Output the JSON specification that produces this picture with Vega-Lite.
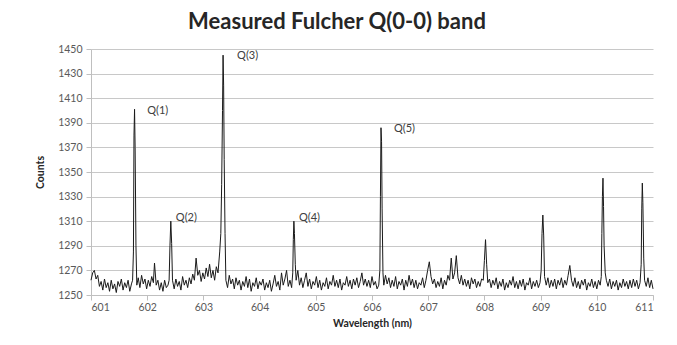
{
  "$schema": "https://vega.github.io/schema/vega-lite/v6.json",
  "width": 562,
  "height": 246,
  "autosize": {"type": "none"},
  "padding": {"left": 91, "top": 49, "right": 24, "bottom": 50},
  "background": "white",
  "config": {
    "view": {"stroke": null},
    "font": "Lato",
    "axis": {"labelFont": "Lato", "titleFont": "Lato", "labelColor": "#595959", "labelFontSize": 10.5, "domainColor": "#bfbfbf", "tickColor": "#bfbfbf", "gridColor": "#c8c8c8", "titleFontSize": 10.5, "titleFontWeight": "bold", "titleColor": "#262626", "labelOverlap": false}
  },
  "title": {"text": "Measured Fulcher Q(0-0) band", "font": "Lato", "fontSize": 22, "fontWeight": "bold", "color": "#262626", "anchor": "middle", "dx": -35, "baseline": "alphabetic", "offset": 14, "dy": 21},
  "datasets": {
    "spec": [
      {"w":601.00,"c":1262},{"w":601.03,"c":1268},{"w":601.06,"c":1270},{"w":601.09,"c":1263},{"w":601.12,"c":1266},{"w":601.15,"c":1257},{"w":601.18,"c":1261},{"w":601.21,"c":1254},{"w":601.24,"c":1263},{"w":601.27,"c":1256},{"w":601.30,"c":1260},{"w":601.33,"c":1253},{"w":601.36,"c":1262},{"w":601.39,"c":1255},{"w":601.42,"c":1259},{"w":601.45,"c":1252},{"w":601.48,"c":1261},{"w":601.51,"c":1257},{"w":601.54,"c":1263},{"w":601.57,"c":1254},{"w":601.60,"c":1260},{"w":601.63,"c":1256},{"w":601.66,"c":1262},{"w":601.69,"c":1253},{"w":601.72,"c":1259},
      {"w":601.74,"c":1262},{"w":601.755,"c":1285},{"w":601.765,"c":1380},{"w":601.775,"c":1401},{"w":601.785,"c":1370},{"w":601.80,"c":1290},{"w":601.815,"c":1258},
      {"w":601.84,"c":1264},{"w":601.87,"c":1256},{"w":601.90,"c":1266},{"w":601.93,"c":1259},{"w":601.96,"c":1263},{"w":601.99,"c":1255},{"w":602.02,"c":1262},{"w":602.05,"c":1257},{"w":602.08,"c":1265},{"w":602.11,"c":1260},{"w":602.13,"c":1276},{"w":602.16,"c":1258},{"w":602.19,"c":1262},{"w":602.22,"c":1254},{"w":602.25,"c":1260},{"w":602.28,"c":1253},{"w":602.31,"c":1262},{"w":602.34,"c":1256},{"w":602.37,"c":1258},
      {"w":602.39,"c":1262},{"w":602.405,"c":1290},{"w":602.42,"c":1310},{"w":602.435,"c":1292},{"w":602.45,"c":1262},
      {"w":602.48,"c":1255},{"w":602.51,"c":1263},{"w":602.54,"c":1257},{"w":602.57,"c":1261},{"w":602.60,"c":1254},{"w":602.63,"c":1265},{"w":602.66,"c":1258},{"w":602.69,"c":1262},{"w":602.72,"c":1256},{"w":602.75,"c":1264},{"w":602.78,"c":1259},{"w":602.81,"c":1267},{"w":602.84,"c":1262},{"w":602.87,"c":1280},{"w":602.90,"c":1266},{"w":602.93,"c":1270},{"w":602.96,"c":1261},{"w":602.99,"c":1268},{"w":603.02,"c":1263},{"w":603.05,"c":1272},{"w":603.08,"c":1265},{"w":603.11,"c":1275},{"w":603.14,"c":1264},{"w":603.17,"c":1270},{"w":603.20,"c":1262},{"w":603.23,"c":1273},{"w":603.26,"c":1268},{"w":603.29,"c":1285},
      {"w":603.31,"c":1300},{"w":603.325,"c":1340},{"w":603.34,"c":1400},{"w":603.35,"c":1445},{"w":603.36,"c":1420},{"w":603.37,"c":1360},{"w":603.385,"c":1300},{"w":603.40,"c":1262},
      {"w":603.43,"c":1256},{"w":603.46,"c":1266},{"w":603.49,"c":1259},{"w":603.52,"c":1263},{"w":603.55,"c":1255},{"w":603.58,"c":1264},{"w":603.61,"c":1258},{"w":603.64,"c":1262},{"w":603.67,"c":1254},{"w":603.70,"c":1261},{"w":603.73,"c":1257},{"w":603.76,"c":1265},{"w":603.79,"c":1256},{"w":603.82,"c":1263},{"w":603.85,"c":1253},{"w":603.88,"c":1260},{"w":603.91,"c":1257},{"w":603.94,"c":1264},{"w":603.97,"c":1255},{"w":604.00,"c":1261},{"w":604.03,"c":1258},{"w":604.06,"c":1263},{"w":604.09,"c":1254},{"w":604.12,"c":1260},{"w":604.15,"c":1256},{"w":604.18,"c":1262},{"w":604.21,"c":1253},{"w":604.24,"c":1259},{"w":604.27,"c":1266},{"w":604.30,"c":1257},{"w":604.33,"c":1261},{"w":604.36,"c":1254},{"w":604.39,"c":1268},{"w":604.42,"c":1258},{"w":604.45,"c":1263},{"w":604.48,"c":1270},{"w":604.51,"c":1257},{"w":604.54,"c":1262},{"w":604.57,"c":1256},
      {"w":604.59,"c":1268},{"w":604.60,"c":1295},{"w":604.61,"c":1310},{"w":604.62,"c":1300},{"w":604.635,"c":1275},{"w":604.65,"c":1262},
      {"w":604.68,"c":1270},{"w":604.71,"c":1258},{"w":604.74,"c":1264},{"w":604.77,"c":1256},{"w":604.80,"c":1262},{"w":604.83,"c":1268},{"w":604.86,"c":1257},{"w":604.89,"c":1263},{"w":604.92,"c":1255},{"w":604.95,"c":1261},{"w":604.98,"c":1258},{"w":605.01,"c":1265},{"w":605.04,"c":1256},{"w":605.07,"c":1262},{"w":605.10,"c":1254},{"w":605.13,"c":1260},{"w":605.16,"c":1257},{"w":605.19,"c":1264},{"w":605.22,"c":1255},{"w":605.25,"c":1261},{"w":605.28,"c":1258},{"w":605.31,"c":1266},{"w":605.34,"c":1257},{"w":605.37,"c":1262},{"w":605.40,"c":1256},{"w":605.43,"c":1263},{"w":605.46,"c":1254},{"w":605.49,"c":1260},{"w":605.52,"c":1258},{"w":605.55,"c":1265},{"w":605.58,"c":1257},{"w":605.61,"c":1262},{"w":605.64,"c":1255},{"w":605.67,"c":1263},{"w":605.70,"c":1258},{"w":605.73,"c":1264},{"w":605.76,"c":1256},{"w":605.79,"c":1261},{"w":605.82,"c":1268},{"w":605.85,"c":1258},{"w":605.88,"c":1263},{"w":605.91,"c":1257},{"w":605.94,"c":1262},{"w":605.97,"c":1256},{"w":606.00,"c":1265},{"w":606.03,"c":1258},{"w":606.06,"c":1261},{"w":606.09,"c":1255},{"w":606.12,"c":1258},
      {"w":606.14,"c":1270},{"w":606.15,"c":1330},{"w":606.16,"c":1386},{"w":606.17,"c":1375},{"w":606.18,"c":1320},{"w":606.195,"c":1268},
      {"w":606.21,"c":1258},{"w":606.24,"c":1266},{"w":606.27,"c":1259},{"w":606.30,"c":1264},{"w":606.33,"c":1256},{"w":606.36,"c":1262},{"w":606.39,"c":1257},{"w":606.42,"c":1265},{"w":606.45,"c":1255},{"w":606.48,"c":1261},{"w":606.51,"c":1258},{"w":606.54,"c":1263},{"w":606.57,"c":1254},{"w":606.60,"c":1262},{"w":606.63,"c":1257},{"w":606.66,"c":1266},{"w":606.69,"c":1258},{"w":606.72,"c":1263},{"w":606.75,"c":1256},{"w":606.78,"c":1262},{"w":606.81,"c":1255},{"w":606.84,"c":1260},{"w":606.87,"c":1258},{"w":606.90,"c":1264},{"w":606.93,"c":1256},{"w":606.96,"c":1262},{"w":606.99,"c":1270},{"w":607.02,"c":1277},{"w":607.05,"c":1265},{"w":607.08,"c":1259},{"w":607.11,"c":1263},{"w":607.14,"c":1256},{"w":607.17,"c":1261},{"w":607.20,"c":1257},{"w":607.23,"c":1264},{"w":607.26,"c":1255},{"w":607.29,"c":1262},{"w":607.32,"c":1258},{"w":607.35,"c":1266},{"w":607.38,"c":1262},{"w":607.41,"c":1280},{"w":607.44,"c":1263},{"w":607.47,"c":1268},{"w":607.50,"c":1282},{"w":607.53,"c":1264},{"w":607.56,"c":1259},{"w":607.59,"c":1266},{"w":607.62,"c":1258},{"w":607.65,"c":1263},{"w":607.68,"c":1257},{"w":607.71,"c":1262},{"w":607.74,"c":1255},{"w":607.77,"c":1264},{"w":607.80,"c":1259},{"w":607.83,"c":1263},{"w":607.86,"c":1256},{"w":607.89,"c":1261},{"w":607.92,"c":1257},{"w":607.95,"c":1263},
      {"w":607.98,"c":1262},{"w":608.00,"c":1278},{"w":608.02,"c":1295},{"w":608.04,"c":1275},{"w":608.06,"c":1260},
      {"w":608.09,"c":1263},{"w":608.12,"c":1256},{"w":608.15,"c":1262},{"w":608.18,"c":1258},{"w":608.21,"c":1264},{"w":608.24,"c":1255},{"w":608.27,"c":1261},{"w":608.30,"c":1257},{"w":608.33,"c":1263},{"w":608.36,"c":1254},{"w":608.39,"c":1260},{"w":608.42,"c":1256},{"w":608.45,"c":1262},{"w":608.48,"c":1258},{"w":608.51,"c":1265},{"w":608.54,"c":1256},{"w":608.57,"c":1261},{"w":608.60,"c":1255},{"w":608.63,"c":1262},{"w":608.66,"c":1257},{"w":608.69,"c":1263},{"w":608.72,"c":1254},{"w":608.75,"c":1260},{"w":608.78,"c":1258},{"w":608.81,"c":1264},{"w":608.84,"c":1255},{"w":608.87,"c":1261},{"w":608.90,"c":1257},{"w":608.93,"c":1262},{"w":608.96,"c":1256},{"w":608.99,"c":1260},
      {"w":609.01,"c":1270},{"w":609.025,"c":1300},{"w":609.04,"c":1315},{"w":609.055,"c":1298},{"w":609.07,"c":1265},
      {"w":609.10,"c":1258},{"w":609.13,"c":1264},{"w":609.16,"c":1256},{"w":609.19,"c":1262},{"w":609.22,"c":1257},{"w":609.25,"c":1263},{"w":609.28,"c":1255},{"w":609.31,"c":1262},{"w":609.34,"c":1258},{"w":609.37,"c":1264},{"w":609.40,"c":1256},{"w":609.43,"c":1262},{"w":609.46,"c":1258},{"w":609.49,"c":1266},{"w":609.52,"c":1274},{"w":609.55,"c":1262},{"w":609.58,"c":1257},{"w":609.61,"c":1264},{"w":609.64,"c":1256},{"w":609.67,"c":1261},{"w":609.70,"c":1255},{"w":609.73,"c":1262},{"w":609.76,"c":1258},{"w":609.79,"c":1263},{"w":609.82,"c":1254},{"w":609.85,"c":1260},{"w":609.88,"c":1257},{"w":609.91,"c":1263},{"w":609.94,"c":1256},{"w":609.97,"c":1261},{"w":610.00,"c":1255},{"w":610.03,"c":1262},{"w":610.06,"c":1258},{"w":610.08,"c":1265},
      {"w":610.09,"c":1300},{"w":610.10,"c":1330},{"w":610.11,"c":1345},{"w":610.12,"c":1322},{"w":610.13,"c":1290},{"w":610.15,"c":1268},
      {"w":610.17,"c":1262},{"w":610.20,"c":1257},{"w":610.23,"c":1263},{"w":610.26,"c":1255},{"w":610.29,"c":1261},{"w":610.32,"c":1257},{"w":610.35,"c":1262},{"w":610.38,"c":1254},{"w":610.41,"c":1260},{"w":610.44,"c":1256},{"w":610.47,"c":1263},{"w":610.50,"c":1257},{"w":610.53,"c":1261},{"w":610.56,"c":1255},{"w":610.59,"c":1262},{"w":610.62,"c":1256},{"w":610.65,"c":1263},{"w":610.68,"c":1257},{"w":610.71,"c":1262},{"w":610.74,"c":1255},{"w":610.77,"c":1260},
      {"w":610.79,"c":1275},{"w":610.80,"c":1320},{"w":610.81,"c":1341},{"w":610.82,"c":1325},{"w":610.835,"c":1280},
      {"w":610.85,"c":1262},{"w":610.88,"c":1257},{"w":610.91,"c":1264},{"w":610.94,"c":1256},{"w":610.97,"c":1262},{"w":611.00,"c":1255}
    ],
    "labels": [
      {"w":602.0,"c":1400,"t":"Q(1)"},
      {"w":602.51,"c":1313,"t":"Q(2)"},
      {"w":603.6,"c":1444,"t":"Q(3)"},
      {"w":604.7,"c":1313,"t":"Q(4)"},
      {"w":606.39,"c":1385,"t":"Q(5)"}
    ]
  },
  "layer": [
    {
      "data": {"name": "spec"},
      "mark": {"type": "line", "color": "#1a1a1a", "strokeWidth": 1, "interpolate": "linear"},
      "encoding": {
        "x": {"field": "w", "type": "quantitative", "scale": {"domain": [601, 611], "nice": false, "zero": false},
          "axis": {"title": "Wavelength (nm)", "values": [601,602,603,604,605,606,607,608,609,610,611], "tickCount": 20, "format": "d", "grid": false, "tickSize": 5, "labelPadding": 2, "titlePadding": 6}},
        "y": {"field": "c", "type": "quantitative", "scale": {"domain": [1250, 1450], "nice": false, "zero": false},
          "axis": {"title": "Counts", "values": [1250,1270,1290,1310,1330,1350,1370,1390,1410,1430,1450], "tickCount": 20, "format": "d", "tickSize": 5, "labelPadding": 4, "titlePadding": 12}}
      }
    },
    {
      "data": {"name": "labels"},
      "mark": {"type": "text", "align": "left", "baseline": "middle", "fontSize": 11, "color": "#404040", "font": "Lato"},
      "encoding": {
        "x": {"field": "w", "type": "quantitative"},
        "y": {"field": "c", "type": "quantitative"},
        "text": {"field": "t"}
      }
    }
  ]
}
